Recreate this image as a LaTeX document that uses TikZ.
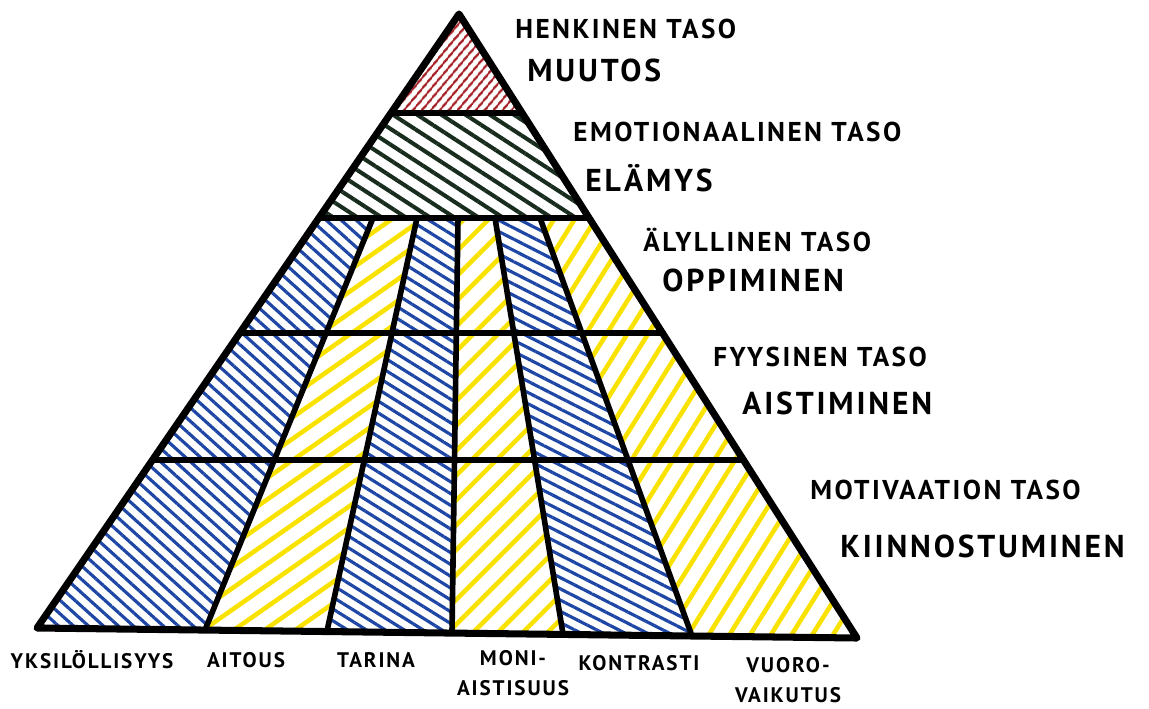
\documentclass[tikz,border=0pt]{standalone}
\usepackage{fontspec}
\setsansfont{PT Sans}[LetterSpace=9]
\usetikzlibrary{patterns.meta}
\definecolor{hblue}{RGB}{30,70,165}
\definecolor{hyellow}{RGB}{250,226,0}
\definecolor{hred}{RGB}{165,30,35}
\definecolor{hgreen}{RGB}{25,45,30}

\begin{document}
\begin{tikzpicture}[x=0.02cm,y=-0.02cm,line join=round,line cap=round,
		rim/.style={line width=4pt},
		seam/.style={line width=3.2pt},
		taso/.style={font=\sffamily\bfseries\fontsize{15.5}{17}\selectfont,anchor=west,inner sep=0pt},
		tulos/.style={font=\sffamily\bfseries\fontsize{18}{20}\selectfont,anchor=west,inner sep=0pt},
		tekija/.style={font=\sffamily\bfseries\fontsize{12}{17}\selectfont,align=center,inner sep=0pt}]
	\useasboundingbox (0,0) rectangle (1149,708);
	% corners of the pyramid
	\coordinate (apex) at (459,14);
	\coordinate (r1) at (391,113); \coordinate (r2) at (522,113);
	% grid: column boundary c, row line r
	\foreach \c/\xa/\xb/\xc/\xd/\yd in {0/319/240/152/37/628,1/373/326/274/205/630,2/417/392/364/327/631,
			3/458/455/454/452/632,4/495/514/535/563/634,5/540/582/628/692/636,6/589/663/744/857/638} {
		\coordinate (p\c-0) at (\xa,218);
		\coordinate (p\c-1) at (\xb,333);
		\coordinate (p\c-2) at (\xc,460);
		\coordinate (p\c-3) at (\xd,\yd);
	}
	% hatching
	\fill[pattern={Lines[angle=50,distance=4pt,line width=1.4pt]},pattern color=hred] (apex) -- (r2) -- (r1) -- cycle;
	\fill[pattern={Lines[angle=-33,distance=7.5pt,line width=2.3pt]},pattern color=hgreen] (r1) -- (r2) -- (p6-0) -- (p0-0) -- cycle;
	\foreach \c/\n/\col/\ang/\dist/\lw in {0/1/hblue/-42/5.7pt/1.8pt,1/2/hyellow/35/10pt/2.6pt,2/3/hblue/-32/5.7pt/1.8pt,
			3/4/hyellow/45/10pt/2.6pt,4/5/hblue/-27/5.7pt/1.8pt,5/6/hyellow/58/10pt/2.6pt}
		\foreach \r/\s in {0/1,1/2,2/3}
			\fill[pattern={Lines[angle=\ang,distance=\dist,line width=\lw]},pattern color=\col] (p\c-\r) -- (p\n-\r) -- (p\n-\s) -- (p\c-\s) -- cycle;
	% lines
	\draw[seam] (r1) -- (r2);
	\foreach \r in {0,1,2} \draw[seam] (p0-\r) -- (p6-\r);
	\foreach \c in {1,...,5} \draw[seam] (p\c-0) -- (p\c-3);
	\draw[rim] (apex) -- (p0-3) -- (p6-3) -- cycle;
	% levels
	\node[taso] (henkinen) at (515,29) {HENKINEN TASO};
	\node[tulos] (muutos) at (527,70) {MUUTOS};
	\node[taso] (emotionaalinen) at (573,132) {EMOTIONAALINEN TASO};
	\node[tulos] (elamys) at (585,178) {ELÄMYS};
	\node[taso] (alyllinen) at (643,240) {ÄLYLLINEN TASO};
	\node[tulos] (oppiminen) at (662,280) {OPPIMINEN};
	\node[taso] (fyysinen) at (713,357) {FYYSINEN TASO};
	\node[tulos] (aistiminen) at (742,403) {AISTIMINEN};
	\node[taso] (motivaation) at (810,490) {MOTIVAATION TASO};
	\node[tulos] (kiinnostuminen) at (840,546) {KIINNOSTUMINEN};
	% factors
	\node[tekija] (yksilollisyys) at (92,660) {YKSILÖLLISYYS};
	\node[tekija] (aitous) at (246,660) {AITOUS};
	\node[tekija] (tarina) at (376,660) {TARINA};
	\node[tekija] (moniaistisuus) at (513,673) {MONI-\\AISTISUUS};
	\node[tekija] (kontrasti) at (639,663) {KONTRASTI};
	\node[tekija] (vuorovaikutus) at (788,680) {VUORO-\\VAIKUTUS};
\end{tikzpicture}
\end{document}
